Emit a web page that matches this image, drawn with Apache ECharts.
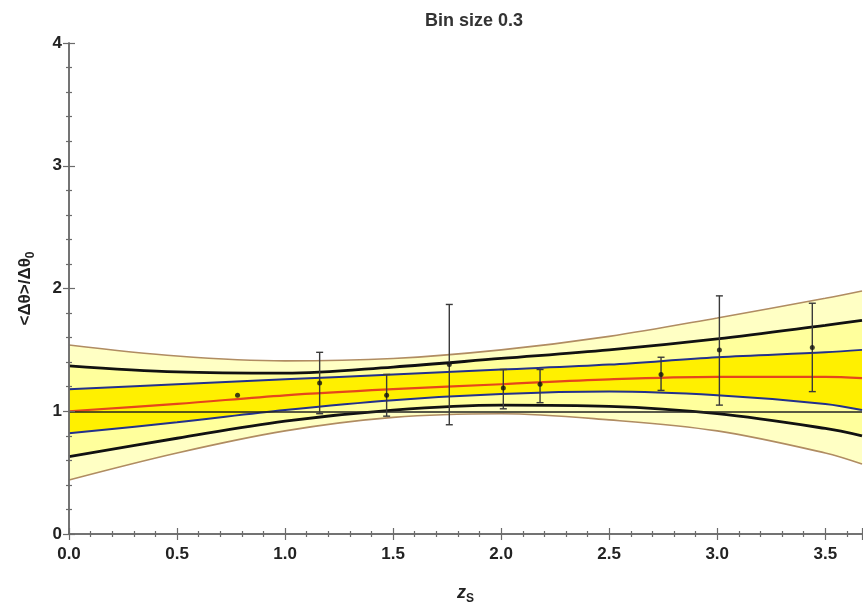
<!DOCTYPE html>
<html lang="en">
<head>
    <meta charset="UTF-8">
    <title>Bin size 0.3</title>
    <script src="https://cdn.jsdelivr.net/npm/echarts@6/dist/echarts.min.js"></script>
    <style>
        html, body {
            margin: 0;
            padding: 0;
            background: #fff;
        }

        #main {
            width: 863px;
            height: 610px;
        }
    </style>
</head>
<body>
<div id="main"></div>

<script type="text/javascript">
    // curve samples along z_s
    var zGrid = [0, 0.5, 1.0, 1.5, 2.0, 2.5, 3.0, 3.5, 3.67];
    var outerLow = [0.44, 0.66, 0.84, 0.95, 0.98, 0.93, 0.84, 0.66, 0.57];
    var outerHigh = [1.54, 1.45, 1.41, 1.43, 1.50, 1.61, 1.76, 1.92, 1.98];
    var midLow = [0.63, 0.78, 0.92, 1.01, 1.05, 1.04, 0.98, 0.86, 0.80];
    var midHigh = [1.37, 1.32, 1.31, 1.36, 1.43, 1.50, 1.59, 1.70, 1.74];
    var innerLow = [0.82, 0.91, 1.01, 1.09, 1.14, 1.16, 1.13, 1.06, 1.01];
    var innerHigh = [1.18, 1.22, 1.26, 1.30, 1.34, 1.38, 1.44, 1.48, 1.50];
    var fitLine = [1.00, 1.06, 1.13, 1.18, 1.22, 1.26, 1.28, 1.28, 1.27];

    // binned data points with error bars
    var binZ = [0.78, 1.16, 1.47, 1.76, 2.01, 2.18, 2.74, 3.01, 3.44];
    var binMean = [1.13, 1.23, 1.13, 1.38, 1.19, 1.22, 1.30, 1.50, 1.52];
    var binLow = [1.13, 0.98, 0.96, 0.89, 1.02, 1.07, 1.17, 1.05, 1.16];
    var binHigh = [1.13, 1.48, 1.30, 1.87, 1.34, 1.34, 1.44, 1.94, 1.88];

    var refLevel = 1;
    var xMin = 0, xMax = 3.67, xStep = 0.5;
    var yMin = 0, yMax = 4, yStep = 1;

    var font = 'Liberation Sans, Arial, sans-serif';
    var smoothK = 0.35;

    function pairs(ys) {
        return zGrid.map(function (z, i) {
            return [z, ys[i]];
        });
    }

    // filled from the axis bottom; later ones paint over earlier ones
    function fill(name, ys, color) {
        return {
            name: name,
            type: 'line',
            smooth: smoothK,
            symbol: 'none',
            silent: true,
            lineStyle: {width: 0, opacity: 0},
            areaStyle: {color: color, opacity: 1, origin: 'start'},
            z: 1,
            data: pairs(ys)
        };
    }

    function curve(name, ys, color, width) {
        return {
            name: name,
            type: 'line',
            smooth: smoothK,
            symbol: 'none',
            silent: true,
            lineStyle: {color: color, width: width},
            z: 3,
            data: pairs(ys)
        };
    }

    function renderErr(params, api) {
        var x = api.value(0), lo = api.value(1), hi = api.value(2);
        if (hi - lo < 1e-6) return;
        var top = api.coord([x, hi]);
        var bot = api.coord([x, lo]);
        var cap = 3.5;
        var st = {stroke: '#3a3a3a', lineWidth: 1.4};
        return {
            type: 'group',
            children: [
                {type: 'line', shape: {x1: top[0], y1: top[1], x2: bot[0], y2: bot[1]}, style: st},
                {type: 'line', shape: {x1: top[0] - cap, y1: top[1], x2: top[0] + cap, y2: top[1]}, style: st},
                {type: 'line', shape: {x1: bot[0] - cap, y1: bot[1], x2: bot[0] + cap, y2: bot[1]}, style: st}
            ]
        };
    }

    var axisLine = {lineStyle: {color: '#6b6b6b', width: 1.5}};
    var tickStyle = {color: '#6b6b6b', width: 1.2};

    function xAx(pos, labels) {
        return {
            type: 'value',
            position: pos,
            z: 10,
            min: xMin,
            max: xMax,
            interval: xStep,
            axisLine: axisLine,
            axisTick: {inside: true, length: 6, lineStyle: tickStyle},
            minorTick: {show: true, splitNumber: 5, length: 3, lineStyle: tickStyle},
            splitLine: {show: false},
            axisLabel: {
                show: labels,
                showMaxLabel: false,
                margin: 12,
                color: '#222',
                fontFamily: font,
                fontSize: 17,
                fontWeight: 'bold',
                formatter: function (v) {
                    return v.toFixed(1);
                }
            },
            name: labels ? '{z|z}{s|S}' : '',
            nameLocation: 'middle',
            nameGap: 47,
            nameTextStyle: {
                color: '#222',
                fontFamily: font,
                rich: {
                    z: {fontSize: 18, fontStyle: 'italic', fontWeight: 'bold', verticalAlign: 'middle', lineHeight: 24},
                    s: {fontSize: 12, fontWeight: 'bold', verticalAlign: 'bottom', lineHeight: 24}
                }
            }
        };
    }

    function yAx(pos, labels) {
        return {
            type: 'value',
            position: pos,
            z: 10,
            min: yMin,
            max: yMax,
            interval: yStep,
            axisLine: axisLine,
            axisTick: {inside: true, length: 6, lineStyle: tickStyle},
            minorTick: {show: true, splitNumber: 5, length: 3, lineStyle: tickStyle},
            splitLine: {show: false},
            axisLabel: {
                show: labels,
                margin: 7,
                color: '#222',
                fontFamily: font,
                fontSize: 17,
                fontWeight: 'bold'
            },
            name: labels ? '{a|<Δθ>/Δθ}{s|0}' : '',
            nameLocation: 'middle',
            nameGap: 32,
            nameTextStyle: {
                color: '#222',
                fontFamily: font,
                rich: {
                    a: {fontSize: 17, fontWeight: 'bold', verticalAlign: 'middle', lineHeight: 24},
                    s: {fontSize: 12, fontWeight: 'bold', verticalAlign: 'bottom', lineHeight: 24}
                }
            }
        };
    }

    var myChart = echarts.init(document.getElementById('main'));

    var option = {
        animation: false,
        backgroundColor: '#fff',
        title: {
            text: 'Bin size 0.3',
            left: 469,
            textAlign: 'center',
            top: 7,
            textStyle: {color: '#333', fontFamily: font, fontSize: 18, fontWeight: 'bold'}
        },
        grid: {left: 69, right: 1, top: 43, bottom: 72, containLabel: false},
        xAxis: [xAx('bottom', true), xAx('top', false)],
        yAxis: [yAx('left', true), yAx('right', false)],
        series: [
            fill('fOuterHigh', outerHigh, '#ffffc4'),
            fill('fMidHigh', midHigh, '#ffff9c'),
            fill('fInnerHigh', innerHigh, '#fff000'),
            fill('fInnerLow', innerLow, '#ffff9c'),
            fill('fMidLow', midLow, '#ffffc4'),
            fill('fOuterLow', outerLow, '#ffffff'),

            curve('outerLow', outerLow, '#b08c62', 1.6),
            curve('outerHigh', outerHigh, '#b08c62', 1.6),
            curve('midLow', midLow, '#111', 2.8),
            curve('midHigh', midHigh, '#111', 2.8),
            curve('innerLow', innerLow, '#22308c', 2),
            curve('innerHigh', innerHigh, '#22308c', 2),
            {
                name: 'fit',
                type: 'line',
                smooth: smoothK,
                symbol: 'none',
                silent: true,
                lineStyle: {color: '#e5461c', width: 2.2},
                z: 4,
                data: pairs(fitLine),
                markLine: {
                    silent: true,
                    symbol: 'none',
                    label: {show: false},
                    lineStyle: {color: '#222', width: 1.6, type: 'solid'},
                    data: [{yAxis: refLevel}]
                }
            },
            {
                name: 'errors',
                type: 'custom',
                renderItem: renderErr,
                encode: {x: 0, y: [1, 2]},
                z: 5,
                silent: true,
                data: binZ.map(function (z, i) {
                    return [z, binLow[i], binHigh[i]];
                })
            },
            {
                name: 'points',
                type: 'scatter',
                symbolSize: 5,
                itemStyle: {color: '#111'},
                z: 6,
                silent: true,
                data: binZ.map(function (z, i) {
                    return [z, binMean[i]];
                })
            }
        ]
    };

    myChart.setOption(option);
</script>

</body>
</html>
